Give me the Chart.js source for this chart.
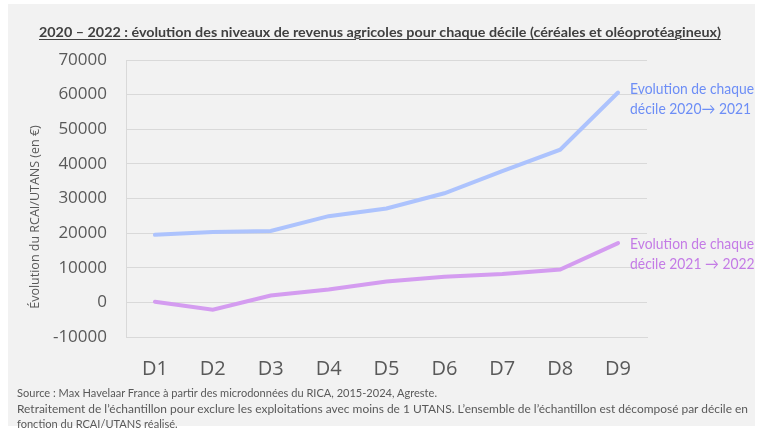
<!DOCTYPE html>
<html><head><meta charset="utf-8">
<script src="https://cdn.jsdelivr.net/npm/chart.js@4/dist/chart.umd.min.js"></script>
<style>
html,body{margin:0;padding:0;background:#fff;width:761px;height:431px;overflow:hidden}
#bg{position:absolute;left:8px;top:4px;width:747px;height:422px;background:#f2f2f2}
#title{position:absolute;left:39px;top:23px;white-space:nowrap;transform-origin:0 0;font-family:Lato,sans-serif;font-weight:bold;font-size:14px;color:#404040;text-decoration:underline;text-underline-offset:2px;text-decoration-thickness:1px}
#wrap{position:absolute;left:0;top:0;width:761px;height:403px}
.fl{position:absolute;left:17px;white-space:nowrap;transform-origin:0 0;font-family:Lato,sans-serif;font-size:12px;color:#595959}
</style></head>
<body>
<div id="bg"></div>
<div id="wrap"><canvas id="c" width="761" height="403"></canvas></div>
<div id="title">2020 – 2022 : évolution des niveaux de revenus agricoles pour chaque décile (céréales et oléoprotéagineux)</div>
<div class="fl" id="f1" style="top:385px">Source : Max Havelaar France à partir des microdonnées du RICA, 2015-2024, Agreste.</div>
<div class="fl" id="f2" style="top:401px">Retraitement de l’échantillon pour exclure les exploitations avec moins de 1 UTANS. L’ensemble de l’échantillon est décomposé par décile en</div>
<div class="fl" id="f3" style="top:416px">fonction du RCAI/UTANS réalisé.</div>
<script>
const categories = ["D1","D2","D3","D4","D5","D6","D7","D8","D9"];
const evol2020_2021 = [19500, 20300, 20600, 24900, 27100, 31500, 37900, 44100, 60600];
const evol2021_2022 = [200, -2100, 2000, 3700, 6000, 7400, 8200, 9500, 17100];
const seriesLabels = [["Evolution de chaque","décile 2020→ 2021"],["Evolution de chaque","décile 2021 → 2022"]];
const yTicks = [-10000,0,10000,20000,30000,40000,50000,60000,70000];
const yTitle = "Évolution du RCAI/UTANS (en €)";

(function(){
  const t = document.getElementById('title');
  t.style.transform = 'scaleX(' + (682 / t.getBoundingClientRect().width) + ')';
  const el1 = document.getElementById('f1');
  const s = 420 / el1.getBoundingClientRect().width;
  el1.style.transform='scaleX('+s+')';
  document.getElementById('f3').style.transform='scaleX('+s+')';
  const el2 = document.getElementById('f2');
  el2.style.transform='scaleX('+(731/el2.getBoundingClientRect().width)+')';
})();

const extraText = {
  id:'extraText',
  afterDatasetsDraw(chart){
    const ctx = chart.ctx;
    const colors = ['#6d8ef6','#c47be6'];
    chart.data.datasets.forEach((ds,i)=>{
      const meta = chart.getDatasetMeta(i);
      const pt = meta.data[meta.data.length-1];
      ctx.save();
      ctx.font = '15px Lato,sans-serif';
      ctx.fillStyle = colors[i];
      ctx.textBaseline = 'middle';
      ctx.textAlign = 'left';
      const lines = seriesLabels[i];
      const s = 124 / ctx.measureText(lines[0]).width;
      const dy = i===0 ? -3 : 1;
      lines.forEach((t,k)=>{
        ctx.save();
        ctx.translate(pt.x+12, pt.y+dy+k*20);
        ctx.scale(s,1);
        ctx.fillText(t, 0, 0);
        ctx.restore();
      });
      ctx.restore();
    });
    // y-axis title
    ctx.save();
    ctx.font = '12.5px "Open Sans",sans-serif';
    ctx.fillStyle = '#595959';
    ctx.textAlign = 'center';
    ctx.textBaseline = 'middle';
    ctx.translate(35, 217);
    ctx.rotate(-Math.PI/2);
    ctx.fillText(yTitle, 0, 0);
    ctx.restore();
  }
};

new Chart(document.getElementById('c'),{
  type:'line',
  data:{labels:categories,datasets:[
    {label:seriesLabels[0].join(' '),data:evol2020_2021,borderColor:'#adc3fd',borderWidth:4,pointRadius:0,tension:0,borderCapStyle:'round'},
    {label:seriesLabels[1].join(' '),data:evol2021_2022,borderColor:'#d49cf0',borderWidth:4,pointRadius:0,tension:0,borderCapStyle:'round'}
  ]},
  options:{
    responsive:false,animation:false,
    layout:{padding:{left:26,right:114,top:60,bottom:2}},
    plugins:{legend:{display:false},tooltip:{enabled:false},title:{display:false}},
    scales:{
      x:{offset:true,grid:{display:false,drawTicks:false},border:{display:true,color:'#d9d9d9'},
         ticks:{color:'#595959',padding:20,font:{family:'"Open Sans",sans-serif',size:20}}},
      y:{min:-10000,max:70000,afterBuildTicks(ax){ax.ticks=yTicks.map(v=>({value:v}));},
         afterFit(ax){ax.width=100;},
         grid:{color:'#d9d9d9',lineWidth:1,drawTicks:false},border:{display:true,color:'#d9d9d9'},
         ticks:{color:'#595959',padding:19,font:{family:'"Open Sans",sans-serif',size:17},callback:v=>String(v)},
         title:{display:false}}
    }
  },
  plugins:[extraText]
});
</script>
</body></html>
